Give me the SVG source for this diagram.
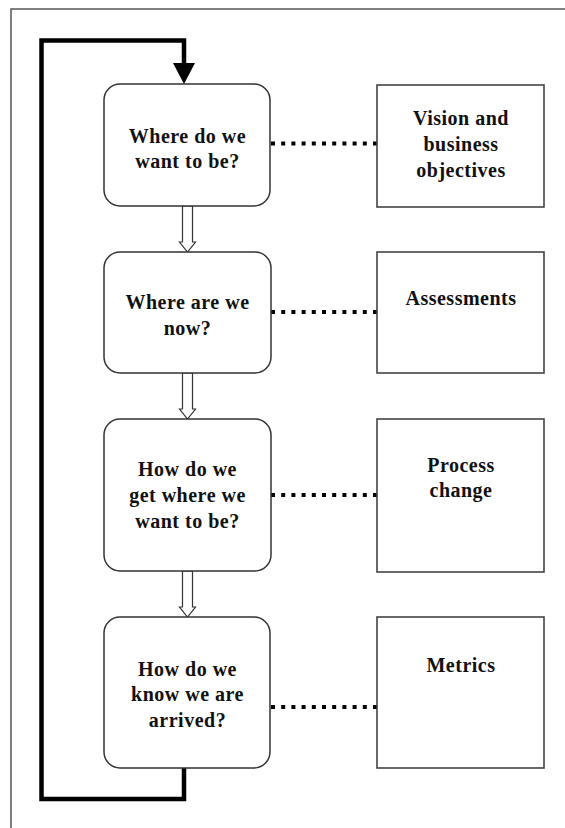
<svg xmlns="http://www.w3.org/2000/svg" width="565" height="828" viewBox="0 0 565 828">
  <style>
    .q { fill: #ffffff; stroke: #333333; stroke-width: 1.5; }
    .box { fill: #ffffff; stroke: #444444; stroke-width: 1.6; }
    .t { font-family: "Liberation Serif", "Times New Roman", serif; font-weight: bold; font-size: 20px; letter-spacing: 0.5px; fill: #111111; text-anchor: middle; }
    .dots { stroke: #000000; stroke-width: 4; stroke-dasharray: 4 6.2; fill: none; }
    .flow { fill: #ffffff; stroke: #333333; stroke-width: 1.2; stroke-linejoin: miter; }
    .loop { fill: none; stroke: #000000; stroke-width: 4.5; stroke-linejoin: miter; }
    .frame { fill: none; stroke: #555555; stroke-width: 1.5; }
  </style>
  <rect width="565" height="828" fill="#ffffff"/>

  <!-- page frame -->
  <path class="frame" d="M11,828 V9 H565"/>

  <!-- connectors -->
  <g id="connectors">
    <!-- feedback loop from the last step back to the first -->
    <path class="loop" d="M184,768 V799 H41.5 V40.5 H184 V64"/>
    <polygon points="173,63 195,63 184,84" fill="#000000"/>

    <!-- hollow flow arrows between steps -->
    <polygon class="flow" points="182.5,206 192.5,206 192.5,242 195.5,242 187.5,252 179.5,242 182.5,242"/>
    <polygon class="flow" points="182.5,373 192.5,373 192.5,409 195.5,409 187.5,419 179.5,409 182.5,409"/>
    <polygon class="flow" points="182.5,571 192.5,571 192.5,607 195.5,607 187.5,617 179.5,607 182.5,607"/>

    <!-- dotted links to the right-hand boxes (drawn from the box side) -->
    <line class="dots" x1="377" y1="143.5" x2="271" y2="143.5"/>
    <line class="dots" x1="377" y1="312" x2="271" y2="312"/>
    <line class="dots" x1="377" y1="495" x2="271" y2="495"/>
    <line class="dots" x1="377" y1="707" x2="271" y2="707"/>
  </g>

  <!-- question steps -->
  <g id="step1">
    <rect class="q" x="104" y="84" width="166" height="122" rx="16" ry="16"/>
    <text class="t" x="187.5" y="143">Where do we</text>
    <text class="t" x="187.5" y="168">want to be?</text>
  </g>
  <g id="step2">
    <rect class="q" x="104" y="252" width="167" height="121" rx="16" ry="16"/>
    <text class="t" x="187.5" y="309">Where are we</text>
    <text class="t" x="187.5" y="335">now?</text>
  </g>
  <g id="step3">
    <rect class="q" x="104" y="419" width="167" height="152" rx="16" ry="16"/>
    <text class="t" x="187.5" y="476">How do we</text>
    <text class="t" x="187.5" y="502">get where we</text>
    <text class="t" x="187.5" y="528">want to be?</text>
  </g>
  <g id="step4">
    <rect class="q" x="104" y="617" width="166" height="151" rx="16" ry="16"/>
    <text class="t" x="187.5" y="676">How do we</text>
    <text class="t" x="187.5" y="701">know we are</text>
    <text class="t" x="187.5" y="727">arrived?</text>
  </g>

  <!-- related activities -->
  <g id="vision">
    <rect class="box" x="377" y="85" width="167" height="122"/>
    <text class="t" x="461" y="125">Vision and</text>
    <text class="t" x="461" y="151">business</text>
    <text class="t" x="461" y="177">objectives</text>
  </g>
  <g id="assessments">
    <rect class="box" x="377" y="252" width="167" height="121"/>
    <text class="t" x="461" y="305">Assessments</text>
  </g>
  <g id="process-change">
    <rect class="box" x="377" y="419" width="167" height="153"/>
    <text class="t" x="461" y="472">Process</text>
    <text class="t" x="461" y="497">change</text>
  </g>
  <g id="metrics">
    <rect class="box" x="377" y="617" width="167" height="151"/>
    <text class="t" x="461" y="672">Metrics</text>
  </g>
</svg>
